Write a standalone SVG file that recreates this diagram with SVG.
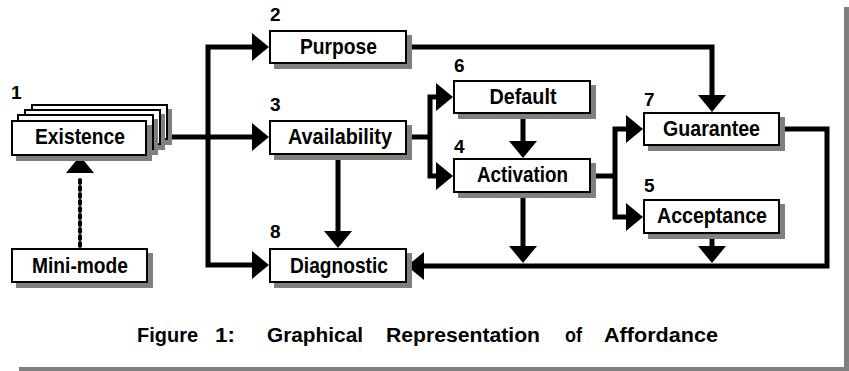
<svg xmlns="http://www.w3.org/2000/svg" width="849" height="371" viewBox="0 0 849 371">
  <style>
    .box { fill: #ffffff; stroke: #000000; stroke-width: 2; }
    .shadow { fill: #808080; }
    .label { font-family: "Liberation Sans Narrow", "Liberation Sans", Arial, sans-serif; font-weight: bold; font-size: 22px; fill: #000000; text-anchor: middle; }
    .num { font-family: "Liberation Sans Narrow", "Liberation Sans", Arial, sans-serif; font-weight: bold; font-size: 19px; fill: #000000; }
    .caption { font-family: "Liberation Sans Narrow", "Liberation Sans", Arial, sans-serif; font-weight: bold; font-size: 21px; fill: #000000; }
    .wire { fill: none; stroke: #000000; stroke-width: 5; stroke-linejoin: miter; }
    .arrow { marker-end: url(#head); }
    .dotted { fill: none; stroke: #000000; stroke-width: 4; stroke-linecap: round; stroke-dasharray: 3 4; }
  </style>
  <defs>
    <marker id="head" markerUnits="userSpaceOnUse" markerWidth="18" markerHeight="30" refX="0" refY="14" orient="auto-start-reverse" overflow="visible">
      <path d="M0 0 L17 14 L0 28 Z" fill="#000000"/>
    </marker>
  </defs>

  <rect width="849" height="371" fill="#ffffff"/>
  <!-- frame shadow -->
  <rect class="shadow" x="844" y="7" width="5" height="364"/>
  <rect class="shadow" x="19" y="367" width="830" height="4"/>

  <!-- connectors -->
  <g id="connectors">
    <path class="wire" d="M252 47 H208 V265 H252" marker-start="url(#head)" marker-end="url(#head)"/>
    <path class="wire arrow" d="M147 137 H252"/>
    <path class="wire arrow" d="M407 47 H712 V95"/>
    <path class="wire" d="M407 137 H430"/>
    <path class="wire" d="M436 97 H430 V176 H436" marker-start="url(#head)" marker-end="url(#head)"/>
    <path class="wire arrow" d="M338 155 V231"/>
    <path class="wire arrow" d="M523 114 V141"/>
    <path class="wire" d="M591 176 H615"/>
    <path class="wire" d="M626 129 H615 V217 H626" marker-start="url(#head)" marker-end="url(#head)"/>
    <path class="wire arrow" d="M523 193 V246"/>
    <path class="wire arrow" d="M712 234 V246"/>
    <path class="wire arrow" d="M780 129 H827 V266 H424"/>
    <path class="dotted" d="M80 246 V176"/>
    <path d="M80 156 L94 173 L66 173 Z" fill="#000000"/>
  </g>

  <!-- 1 Existence (stacked) -->
  <g id="existence">
    <rect class="shadow" x="36" y="109" width="136" height="36"/>
    <rect class="box" x="32" y="105" width="135" height="34"/>
    <rect class="shadow" x="29" y="114" width="136" height="36"/>
    <rect class="box" x="25" y="110" width="135" height="34"/>
    <rect class="shadow" x="22" y="119" width="136" height="36"/>
    <rect class="box" x="18" y="115" width="135" height="34"/>
    <rect class="shadow" x="16" y="125" width="136" height="36"/>
    <rect class="box" x="12" y="121" width="134" height="34"/>
    <text class="label" x="80" y="144" textLength="90" lengthAdjust="spacingAndGlyphs">Existence</text>
    <text class="num" x="11" y="99">1</text>
  </g>

  <g id="minimode">
    <rect class="shadow" x="16" y="253" width="137" height="35"/>
    <rect class="box" x="12" y="249" width="135" height="33"/>
    <text class="label" x="80" y="273" textLength="96" lengthAdjust="spacingAndGlyphs">Mini-mode</text>
  </g>

  <g id="purpose">
    <rect class="shadow" x="274" y="35" width="138" height="34"/>
    <rect class="box" x="270" y="31" width="136" height="32"/>
    <text class="label" x="338.5" y="54" textLength="77" lengthAdjust="spacingAndGlyphs">Purpose</text>
    <text class="num" x="270" y="21">2</text>
  </g>

  <g id="availability">
    <rect class="shadow" x="274" y="125" width="138" height="35"/>
    <rect class="box" x="270" y="121" width="136" height="33"/>
    <text class="label" x="340" y="144" textLength="104" lengthAdjust="spacingAndGlyphs">Availability</text>
    <text class="num" x="270" y="111">3</text>
  </g>

  <g id="default">
    <rect class="shadow" x="458" y="85" width="138" height="34"/>
    <rect class="box" x="454" y="81" width="136" height="32"/>
    <text class="label" x="523" y="104" textLength="67" lengthAdjust="spacingAndGlyphs">Default</text>
    <text class="num" x="454" y="72">6</text>
  </g>

  <g id="activation">
    <rect class="shadow" x="458" y="163" width="138" height="35"/>
    <rect class="box" x="454" y="159" width="136" height="33"/>
    <text class="label" x="522.5" y="182" textLength="91" lengthAdjust="spacingAndGlyphs">Activation</text>
    <text class="num" x="454" y="153">4</text>
  </g>

  <g id="guarantee">
    <rect class="shadow" x="648" y="117" width="137" height="34"/>
    <rect class="box" x="644" y="113" width="135" height="32"/>
    <text class="label" x="711.5" y="136" textLength="97" lengthAdjust="spacingAndGlyphs">Guarantee</text>
    <text class="num" x="644" y="106">7</text>
  </g>

  <g id="acceptance">
    <rect class="shadow" x="648" y="204" width="137" height="35"/>
    <rect class="box" x="644" y="200" width="135" height="33"/>
    <text class="label" x="712" y="223" textLength="110" lengthAdjust="spacingAndGlyphs">Acceptance</text>
    <text class="num" x="644" y="192">5</text>
  </g>

  <g id="diagnostic">
    <rect class="shadow" x="274" y="253" width="138" height="35"/>
    <rect class="box" x="270" y="249" width="136" height="33"/>
    <text class="label" x="339" y="273" textLength="98" lengthAdjust="spacingAndGlyphs">Diagnostic</text>
    <text class="num" x="270" y="238">8</text>
  </g>

  <!-- caption, justified word by word -->
  <g id="caption">
    <text class="caption" x="137" y="342" textLength="61" lengthAdjust="spacingAndGlyphs">Figure</text>
    <text class="caption" x="215" y="342" textLength="20" lengthAdjust="spacingAndGlyphs">1:</text>
    <text class="caption" x="267" y="342" textLength="96" lengthAdjust="spacingAndGlyphs">Graphical</text>
    <text class="caption" x="386" y="342" textLength="154" lengthAdjust="spacingAndGlyphs">Representation</text>
    <text class="caption" x="565" y="342" textLength="17" lengthAdjust="spacingAndGlyphs">of</text>
    <text class="caption" x="604" y="342" textLength="114" lengthAdjust="spacingAndGlyphs">Affordance</text>
  </g>
</svg>
